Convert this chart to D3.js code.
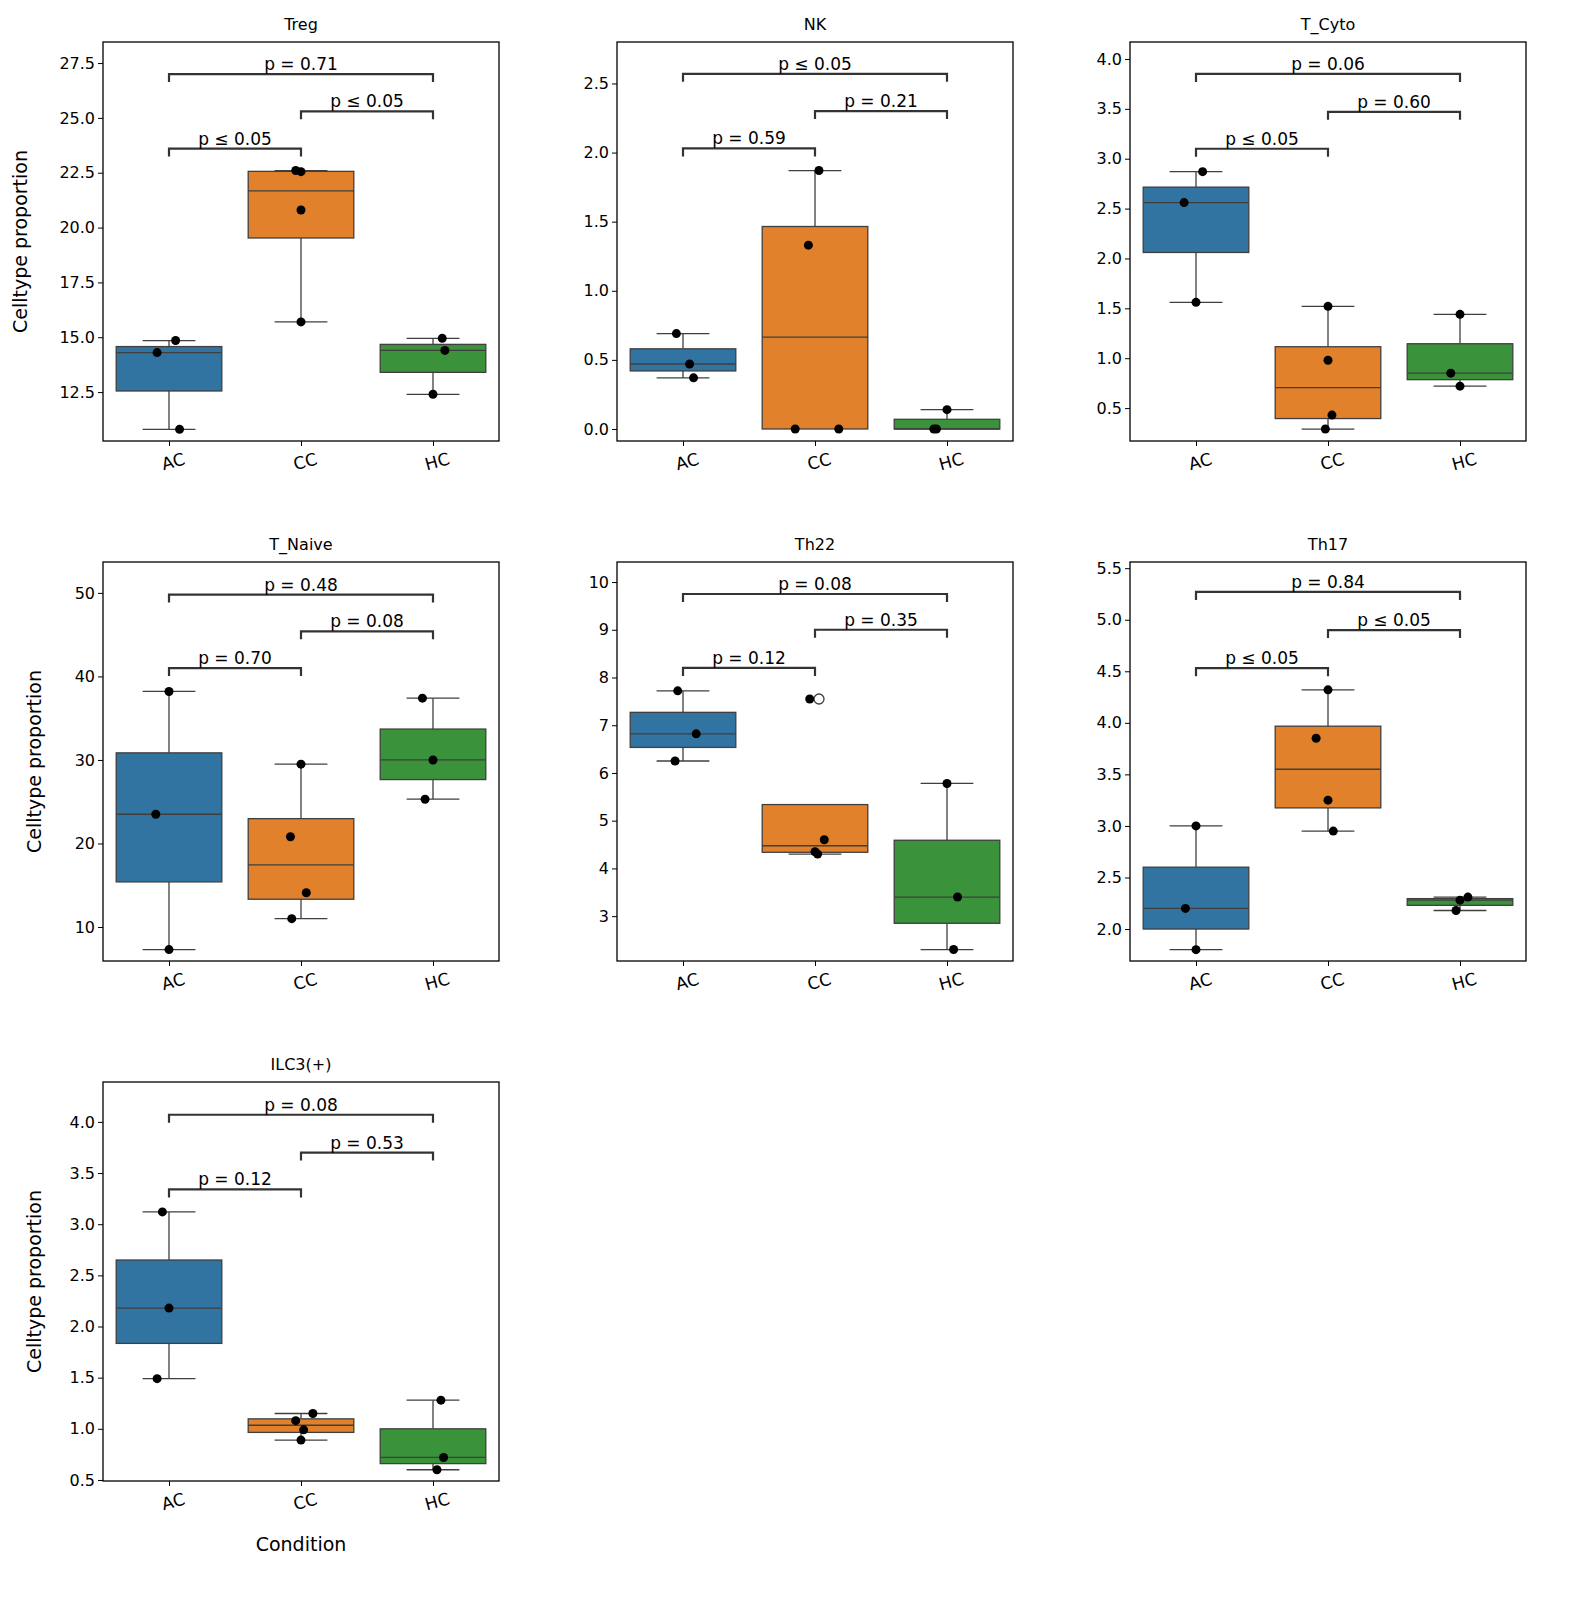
<!DOCTYPE html>
<html lang="en">
<head>
<meta charset="utf-8">
<script src="https://cdn.jsdelivr.net/npm/d3@7"></script>
<style>
body { margin:0; background:#fff; font-family:"DejaVu Sans", sans-serif; }
</style>
</head>
<body>
<script>
var W = 1588, H = 1617;
var cats = ["AC","CC","HC"];
var colors = {AC:"#3274a1", CC:"#e1812c", HC:"#3a923a"};

// points: [value, jitter] ; jitter in category units
var panels = [
 {name:"Treg", dom:[10.27,28.46], ticks:[12.5,15,17.5,20,22.5,25,27.5], fmt:".1f",
  data:{AC:[[14.85,0.05],[14.3,-0.09],[10.8,0.08]], CC:[[22.6,-0.04],[22.55,0.0],[20.8,0.0],[15.7,0.0]], HC:[[14.95,0.07],[14.4,0.09],[12.4,0.0]]},
  br:[23.6,25.3,27.0], p:["p ≤ 0.05","p ≤ 0.05","p = 0.71"]},
 {name:"NK", dom:[-0.087,2.80], ticks:[0,0.5,1,1.5,2,2.5], fmt:".1f",
  data:{AC:[[0.69,-0.05],[0.47,0.05],[0.37,0.08]], CC:[[1.87,0.03],[1.33,-0.05],[0,0.18],[0,-0.15]], HC:[[0.14,0.0],[0,-0.08],[0,-0.1]]},
  br:[2.03,2.30,2.57], p:["p = 0.59","p = 0.21","p ≤ 0.05"]},
 {name:"T_Cyto", dom:[0.17,4.17], ticks:[0.5,1,1.5,2,2.5,3,3.5,4], fmt:".1f",
  data:{AC:[[2.87,0.05],[2.56,-0.09],[1.56,0.0]], CC:[[1.52,0.0],[0.98,0.0],[0.43,0.03],[0.29,-0.02]], HC:[[1.44,0.0],[0.85,-0.07],[0.72,0.0]]},
  br:[3.1,3.47,3.85], p:["p ≤ 0.05","p = 0.60","p = 0.06"]},
 {name:"T_Naive", dom:[5.93,53.7], ticks:[10,20,30,40,50], fmt:"d",
  data:{AC:[[38.2,0.0],[23.5,-0.1],[7.3,0.0]], CC:[[29.5,0.0],[20.8,-0.08],[14.1,0.04],[11.0,-0.07]], HC:[[37.4,-0.08],[30.0,0.0],[25.3,-0.06]]},
  br:[41,45.4,49.8], p:["p = 0.70","p = 0.08","p = 0.48"]},
 {name:"Th22", dom:[2.06,10.42], ticks:[3,4,5,6,7,8,9,10], fmt:"d",
  data:{AC:[[7.72,-0.04],[6.82,0.1],[6.25,-0.06]], CC:[[7.55,-0.04],[4.6,0.07],[4.35,0.0],[4.3,0.02]], HC:[[5.78,0.0],[3.4,0.08],[2.3,0.05]]},
  br:[8.2,9.0,9.75], p:["p = 0.12","p = 0.35","p = 0.08"]},
 {name:"Th17", dom:[1.69,5.56], ticks:[2,2.5,3,3.5,4,4.5,5,5.5], fmt:".1f",
  data:{AC:[[3.0,0.0],[2.2,-0.08],[1.8,0.0]], CC:[[4.32,0.0],[3.85,-0.09],[3.25,0.0],[2.95,0.04]], HC:[[2.31,0.06],[2.28,0.0],[2.18,-0.03]]},
  br:[4.53,4.9,5.27], p:["p ≤ 0.05","p ≤ 0.05","p = 0.84"]},
 {name:"ILC3(+)", dom:[0.49,4.39], ticks:[0.5,1,1.5,2,2.5,3,3.5,4], fmt:".1f",
  data:{AC:[[3.12,-0.05],[2.18,0.0],[1.49,-0.09]], CC:[[1.15,0.09],[1.08,-0.04],[0.99,0.02],[0.89,0.0]], HC:[[1.28,0.06],[0.72,0.08],[0.6,0.03]]},
  br:[3.34,3.7,4.07], p:["p = 0.12","p = 0.53","p = 0.08"]}
];

var colX = [103, 617, 1130], rowY = [42, 562, 1082];
var pw = 396, ph = 399;

var svg = d3.select("body").append("svg").attr("width", W).attr("height", H);

panels.forEach(function(pn, i) {
  var col = i % 3, row = Math.floor(i / 3);
  var g = svg.append("g").attr("transform", "translate(" + colX[col] + "," + rowY[row] + ")");
  var x = d3.scaleLinear().domain([-0.5, 2.5]).range([0, pw]);
  var y = d3.scaleLinear().domain(pn.dom).range([ph, 0]);
  var bw = x(0.4) - x(0);

  cats.forEach(function(c, ci) {
    var vals = pn.data[c].map(function(d){ return d[0]; }).sort(d3.ascending);
    var q1 = d3.quantile(vals, 0.25), med = d3.quantile(vals, 0.5), q3 = d3.quantile(vals, 0.75);
    var iqr = q3 - q1;
    var lo = d3.min(vals.filter(function(v){ return v >= q1 - 1.5*iqr; }));
    var hi = d3.max(vals.filter(function(v){ return v <= q3 + 1.5*iqr; }));
    var cx = x(ci);
    var lc = "#3f3f3f";
    if (hi > q3) {
      g.append("line").attr("x1",cx).attr("x2",cx).attr("y1",y(q3)).attr("y2",y(hi)).attr("stroke",lc).attr("stroke-width",1.3);
      g.append("line").attr("x1",cx-bw/2).attr("x2",cx+bw/2).attr("y1",y(hi)).attr("y2",y(hi)).attr("stroke",lc).attr("stroke-width",1.3);
    }
    if (lo < q1) {
      g.append("line").attr("x1",cx).attr("x2",cx).attr("y1",y(q1)).attr("y2",y(lo)).attr("stroke",lc).attr("stroke-width",1.3);
      g.append("line").attr("x1",cx-bw/2).attr("x2",cx+bw/2).attr("y1",y(lo)).attr("y2",y(lo)).attr("stroke",lc).attr("stroke-width",1.3);
    }
    g.append("rect").attr("x",cx-bw).attr("width",2*bw).attr("y",y(q3)).attr("height",Math.max(0,y(q1)-y(q3)))
      .attr("fill",colors[c]).attr("stroke",lc).attr("stroke-width",1.3);
    g.append("line").attr("x1",cx-bw).attr("x2",cx+bw).attr("y1",y(med)).attr("y2",y(med)).attr("stroke",lc).attr("stroke-width",1.3);
    vals.forEach(function(v){
      if (v < lo || v > hi)
        g.append("circle").attr("cx",cx+4).attr("cy",y(v)).attr("r",5).attr("fill","none").attr("stroke",lc).attr("stroke-width",1.3);
    });
    pn.data[c].forEach(function(d){
      g.append("circle").attr("cx", x(ci + d[1])).attr("cy", y(d[0])).attr("r",4.5).attr("fill","#000");
    });
  });

  // brackets
  var pairs = [[0,1],[1,2],[0,2]];
  pairs.forEach(function(pr, k) {
    var yy = y(pn.br[k]);
    g.append("path").attr("d","M"+x(pr[0])+","+(yy+8)+"V"+yy+"H"+x(pr[1])+"V"+(yy+8))
      .attr("fill","none").attr("stroke","#333").attr("stroke-width",2.2);
    g.append("text").attr("x",(x(pr[0])+x(pr[1]))/2).attr("y",yy-4).attr("text-anchor","middle")
      .attr("font-size",17).text(pn.p[k]);
  });

  var yAxis = d3.axisLeft(y).tickValues(pn.ticks).tickFormat(d3.format(pn.fmt)).tickSizeOuter(0).tickSize(5);
  var ya = g.append("g").call(yAxis);
  ya.select(".domain").remove();
  ya.selectAll("text").attr("font-size",16).attr("font-family","DejaVu Sans");
  var xa = g.append("g").attr("transform","translate(0,"+ph+")")
    .call(d3.axisBottom(x).tickValues([0,1,2]).tickFormat(function(d){ return cats[d]; }).tickSize(5));
  xa.select(".domain").remove();
  xa.selectAll("text").attr("font-size",17).attr("font-family","DejaVu Sans")
    .attr("transform","rotate(-15)").attr("dy","1.1em").attr("dx","-0.1em");

  g.append("rect").attr("width",pw).attr("height",ph).attr("fill","none").attr("stroke","#000").attr("stroke-width",1.3);
  g.append("text").attr("x",pw/2).attr("y",-12).attr("text-anchor","middle").attr("font-size",16).text(pn.name);
  if (col === 0)
    g.append("text").attr("transform","translate("+(i===0 ? -76 : -62)+","+(ph/2)+") rotate(-90)")
      .attr("text-anchor","middle").attr("font-size",19).text("Celltype proportion");
  if (i === 6)
    g.append("text").attr("x",pw/2).attr("y",ph+70).attr("text-anchor","middle").attr("font-size",19).text("Condition");
});
</script>
</body>
</html>
